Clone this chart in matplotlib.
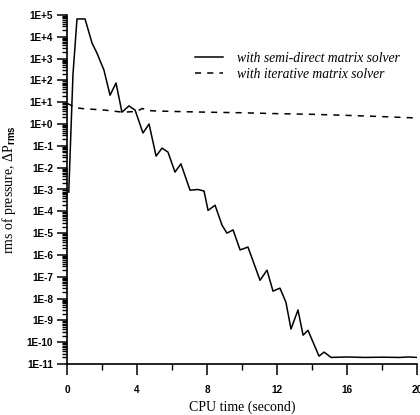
import numpy as np
import matplotlib
matplotlib.use('Agg')
import matplotlib.pyplot as plt
from matplotlib.ticker import LogLocator, FuncFormatter, MultipleLocator, NullFormatter

# semi-direct matrix solver
semi_t = [0.1, 0.34, 0.57, 1.03, 1.43, 1.71, 2.11, 2.46, 2.8, 3.14, 3.54, 3.89,
          4.34, 4.69, 5.09, 5.43, 5.77, 6.17, 6.51, 7.03, 7.49, 7.83, 8.06, 8.46,
          8.86, 9.14, 9.49, 9.89, 10.34, 11.03, 11.43, 11.77, 12.17, 12.51, 12.8,
          13.2, 13.49, 13.77, 14.06, 14.4, 14.69, 15.09, 16.0, 17.0, 18.0, 19.0,
          19.5, 20.0]
semi_p = [7.6e-4, 1.8e2, 6.6e4, 6.6e4, 5.2e3, 1.8e3, 3.0e2, 2.1e1, 7.6e1, 3.5,
          6.8, 4.4, 3.9e-1, 1.0, 3.4e-2, 7.9e-2, 5.2e-2, 6.3e-3, 1.5e-2, 9.3e-4,
          1.0e-3, 8.5e-4, 1.1e-4, 1.9e-4, 2.3e-5, 1.0e-5, 1.4e-5, 1.7e-6, 2.3e-6,
          6.9e-8, 2.0e-7, 2.2e-8, 3.0e-8, 6.8e-9, 4.0e-10, 3.0e-9, 2.1e-10,
          3.5e-10, 1.0e-10, 2.3e-11, 3.5e-11, 2.0e-11, 2.1e-11, 2.0e-11, 2.05e-11,
          2.0e-11, 2.1e-11, 2.0e-11]

# iterative matrix solver
iter_t = [0.0, 0.5, 1.0, 2.0, 3.2, 4.0, 4.3, 4.6, 5.0, 6.0, 8.0, 10.0, 12.0,
          14.0, 16.0, 18.0, 20.0]
iter_p = [9.0, 5.6, 5.0, 4.5, 3.5, 3.8, 5.2, 4.2, 4.0, 3.8, 3.5, 3.3, 3.0, 2.8,
          2.5, 2.2, 1.9]

plt.rcParams['mathtext.fontset'] = 'custom'
plt.rcParams['mathtext.rm'] = 'Liberation Serif'
plt.rcParams['mathtext.it'] = 'Liberation Serif:italic'
plt.rcParams['mathtext.bf'] = 'Liberation Sans:bold'

fig = plt.figure(figsize=(4.2, 4.15), dpi=100)
ax = fig.add_axes([67/420, 1 - 364/415, 350/420, 349/415])

ax.plot(semi_t, semi_p, color='black', lw=1.1, label='with semi-direct matrix solver')
ax.plot(iter_t, iter_p, color='black', lw=1.1, dashes=(4, 4),
        label='with iterative matrix solver')

ax.set_yscale('log')
ax.set_xlim(0, 20)
ax.set_ylim(1e-11, 1e5)

ax.spines['top'].set_visible(False)
ax.spines['right'].set_visible(False)
ax.spines['left'].set_linewidth(1.2)
ax.spines['bottom'].set_linewidth(1.2)

ax.yaxis.set_major_locator(LogLocator(base=10, numticks=30))
ax.yaxis.set_minor_locator(LogLocator(base=10, subs=np.arange(2, 10), numticks=30))
ax.yaxis.set_minor_formatter(NullFormatter())
ax.yaxis.set_major_formatter(FuncFormatter(lambda v, p: '1E%+d' % int(round(np.log10(v)))))
ax.xaxis.set_major_locator(MultipleLocator(4))
ax.xaxis.set_minor_locator(MultipleLocator(2))

ax.tick_params(axis='y', which='major', direction='out', length=7, width=1.1, pad=3)
ax.tick_params(axis='y', which='minor', direction='out', length=3.5, width=1.0)
ax.tick_params(axis='x', which='major', direction='out', length=8, width=1.1, pad=7)
ax.tick_params(axis='x', which='minor', direction='out', length=4, width=1.0)

for lab in ax.get_xticklabels() + ax.get_yticklabels():
    lab.set_fontfamily('Liberation Sans')
    lab.set_fontweight('bold')
    lab.set_fontsize(7.2)

ax.set_xlabel('CPU time (second)', family='Liberation Serif', fontsize=10, labelpad=4)
ax.set_ylabel(r'rms of pressure, $\Delta$P$_{\mathbf{rms}}$', family='Liberation Serif',
              fontsize=10, labelpad=6)

leg = ax.legend(loc='upper left', bbox_to_anchor=(0.33, 0.93), frameon=False,
                handlelength=2.1, handletextpad=1.0, labelspacing=0.25,
                prop={'family': 'Liberation Serif', 'style': 'italic', 'size': 9.8})

fig.savefig('out.png', dpi=100)
